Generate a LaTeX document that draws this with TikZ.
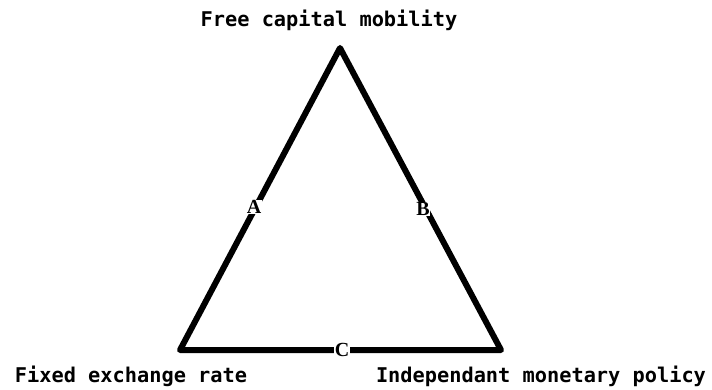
\documentclass[tikz,border=0pt]{standalone}
\usepackage{fontspec}
\setmonofont{DejaVu Sans Mono}
\newfontfamily\labserif{Liberation Serif}
\begin{document}
\begin{tikzpicture}[x=1pt,y=-1pt,
  corner/.style={font=\ttfamily\bfseries\fontsize{20.3}{22}\selectfont, inner sep=0pt, anchor=center},
  side/.style={font=\labserif\bfseries\fontsize{20}{22}\selectfont, fill=white, inner sep=0.3pt},
  edge/.style={line width=6pt, line join=round, line cap=round}]
\useasboundingbox (0,0) rectangle (712,390);
\coordinate (T) at (340,48);
\coordinate (L) at (180,350);
\coordinate (R) at (501,350);
\draw[edge] (T) -- (L) -- (R) -- cycle;
\node[side] (A) at (254,207) {A};
\node[side] (B) at (423,209) {B};
\node[side] (C) at (342,350) {C};
\node[corner] (top) at (329,20) {Free capital mobility};
\node[corner] (fx) at (131,376) {Fixed exchange rate};
\node[corner] (mp) at (541,376) {Independant monetary policy};
\end{tikzpicture}
\end{document}
